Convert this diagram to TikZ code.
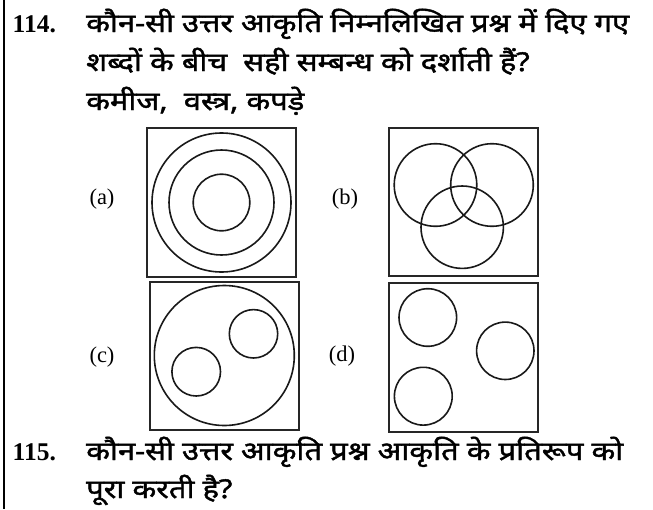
\documentclass[tikz,border=0pt]{standalone}
\usepackage{fontspec}
\setmainfont{Liberation Serif}
\newfontfamily\hindi[Script=Devanagari,FakeStretch=1.19,FakeBold=1.6]{Noto Sans}
\begin{document}
\begin{tikzpicture}[x=1pt,y=-1pt,
  frame/.style={draw=black!85,line width=2pt},
  ring/.style={draw=black!90,line width=1.6pt},
  hline/.style={anchor=base west,inner sep=0pt,font=\hindi\fontsize{26}{30}\selectfont},
  qnum/.style={anchor=base west,inner sep=0pt,font=\bfseries\fontsize{25.5}{28}\selectfont},
  opt/.style={inner sep=0pt,font=\fontsize{22.5}{25}\selectfont}]
\useasboundingbox (0,0) rectangle (653,509);
\fill[white] (0,0) rectangle (653,509);
\draw[line width=2pt] (3.5,0) -- (3.5,509);
% question 114
\node[qnum] (n114) at (12.5,32) {114.};
\node[hline] (l1) at (86,32) {कौन-सी उत्तर आकृति निम्नलिखित प्रश्न में दिए गए};
\node[hline] (l2) at (86,71) {शब्दों के बीच \ सही सम्बन्ध को दर्शाती हैं?};
\node[hline] (l3) at (86,110) {कमीज, \ वस्त्र, कपड़े};
% option boxes
\draw[frame] (147,128) rectangle (296,277);
\draw[frame] (389,128) rectangle (538,276);
\draw[frame] (150,282) rectangle (299,430);
\draw[frame] (389,283) rectangle (538,432);
% labels
\node[opt] (la) at (102,199) {(a)};
\node[opt] (lb) at (345,199) {(b)};
\node[opt] (lc) at (102,357) {(c)};
\node[opt] (ld) at (342,356) {(d)};
% (a) concentric
\draw[ring] (221.5,202.5) circle (69.5);
\draw[ring] (221.5,202.5) circle (52.5);
\draw[ring] (221.5,202.5) circle (28.3);
% (b) three overlapping
\draw[ring] (435.5,185) circle (41.3);
\draw[ring] (492,185) circle (41.3);
\draw[ring] (462.2,227.2) circle (41.2);
% (c)
\draw[ring] (224.3,355.5) circle (70);
\draw[ring] (253.5,333.8) circle (24.2);
\draw[ring] (196.2,371.7) circle (24.3);
% (d)
\draw[ring] (427.8,317.5) circle (28.8);
\draw[ring] (505.3,350.8) circle (28.7);
\draw[ring] (423.3,396.2) circle (28.9);
% question 115
\node[qnum] (n115) at (12.5,460) {115.};
\node[hline] (l4) at (86,460) {कौन-सी उत्तर आकृति प्रश्न आकृति के प्रतिरूप को};
\node[hline] (l5) at (86,498) {पूरा करती है?};
\end{tikzpicture}
\end{document}
